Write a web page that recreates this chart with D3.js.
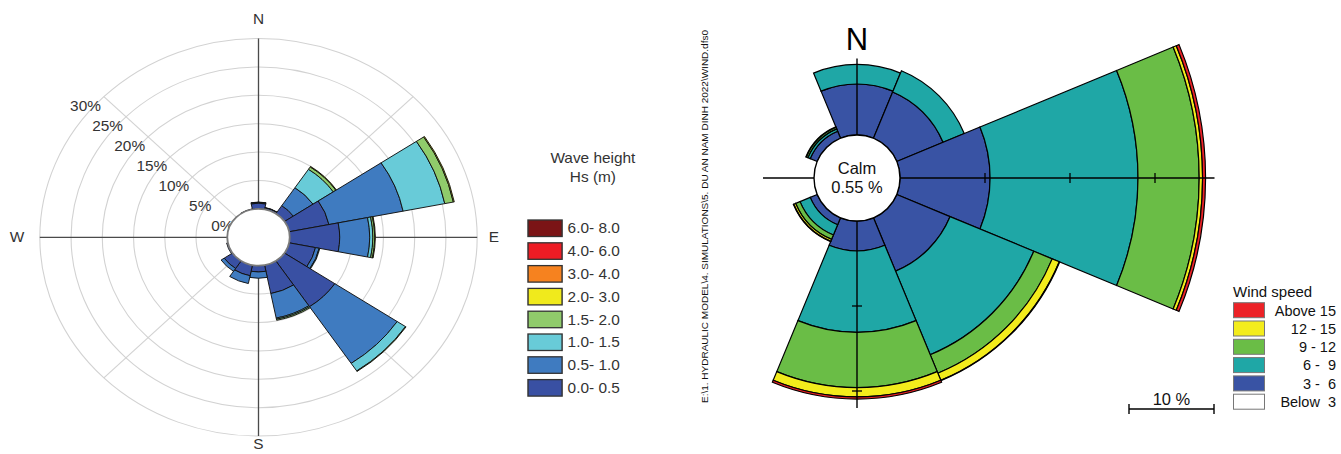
<!DOCTYPE html>
<html>
<head>
<meta charset="utf-8">
<script src="https://cdn.jsdelivr.net/npm/d3@7"></script>
<style>
  html, body { margin: 0; padding: 0; background: #fff; }
  svg { display: block; font-family: "Liberation Sans", Arial, sans-serif; }
</style>
</head>
<body>
<svg id="chart" width="1341" height="454"></svg>
<script>
// ================= Wave rose data (frequency %, 16 directions) =================
const waveDirections = ["N","NNE","NE","ENE","E","ESE","SE","SSE","S","SSW","SW","WSW","W","WNW","NW","NNW"];
const waveClassLabels = ["0.0- 0.5","0.5- 1.0","1.0- 1.5","1.5- 2.0","2.0- 3.0","3.0- 4.0","4.0- 6.0","6.0- 8.0"];
const waveColors = ["#3950a3","#3f7bc0","#68cbd8","#90cb6b","#f0ea1c","#f6821f","#ed1c24","#7b1416"];
const waveHs00_05 = [1.0, 0.3, 1.7, 6.5, 8.0, 4.3, 9.7, 5.1, 1.1, 1.9, 1.6, 0.2, 0, 0, 0, 0.1];
const waveHs05_10 = [0.15, 0.05, 3.8, 12.1, 4.8, 0.6, 12.0, 4.4, 1.1, 1.4, 0.6, 0, 0, 0, 0, 0];
const waveHs10_15 = [0.05, 0, 3.9, 6.8, 0.5, 0.1, 1.6, 0.2, 0, 0, 0, 0, 0, 0, 0, 0];
const waveHs15_20 = [0, 0, 0.5, 1.4, 0.3, 0, 0.1, 0.2, 0, 0, 0, 0, 0, 0, 0, 0];
const waveHs20_30 = [0, 0, 0.1, 0.15, 0.1, 0, 0, 0, 0, 0, 0, 0, 0, 0, 0, 0];
const waveHs30_40 = [0, 0, 0, 0, 0, 0, 0, 0, 0, 0, 0, 0, 0, 0, 0, 0];
const waveHs40_60 = [0, 0, 0, 0, 0, 0, 0, 0, 0, 0, 0, 0, 0, 0, 0, 0];
const waveHs60_80 = [0, 0, 0, 0, 0, 0, 0, 0, 0, 0, 0, 0, 0, 0, 0, 0];
const waveRingTicks = [0, 5, 10, 15, 20, 25, 30];
const waveCompass = ["N", "E", "S", "W"];

// ================= Wind rose data (frequency %, 8 directions) =================
const windDirections = ["N","NE","E","SE","S","SW","W","NW"];
const windLegendLabels = ["Above 15", "12 - 15", "9 - 12", "6 -  9", "3 -  6", "Below  3"];
const windLegendColors = ["#ec2227", "#f3ec1c", "#6abd46", "#1fa7a6", "#3953a4", "#ffffff"];
const windBelow3 = [0, 0, 0, 0, 0, 0, 0, 0];
const wind3_6    = [6.0, 5.9, 10.6, 6.8, 3.5, 0.9, 0, 0.9];
const wind6_9    = [2.3, 2.7, 17.4, 10.65, 9.6, 1.3, 0, 0.3];
const wind9_12   = [0, 0, 7.2, 2.35, 6.5, 0.55, 0, 0.2];
const wind12_15  = [0, 0, 0.4, 0.9, 1.1, 0.25, 0, 0.05];
const windAbove15 = [0, 0, 0.35, 0.05, 0.25, 0.05, 0, 0];
const calmPercent = 0.55;
const windAxisReach = [9.0, 37.0, 22.0, 6.0];   // N, E, S, W axis length in %
const windAxisTicks = [10, 20, 30];
const scaleBarPercent = 10;
const filePath = "E:\\1. HYDRAULIC MODEL\\4. SIMULATIONS\\5. DU AN NAM DINH 2022\\WIND.dfs0";

const svg = d3.select("#chart");
const arc = d3.arc();

// ---------------------------------------------------------------------------
// Wave rose: the whole panel is drawn 1.1x wider than tall
// ---------------------------------------------------------------------------
const wavePanel = svg.append("g").attr("transform", "scale(1.1,1)");
const wc = { x: 235, y: 237.3 };
const rWave = d3.scaleLinear().domain([0, 30]).range([28.4, 198.8]);
const waveSeries = [waveHs00_05, waveHs05_10, waveHs10_15, waveHs15_20,
                    waveHs20_30, waveHs30_40, waveHs40_60, waveHs60_80];
const waveStep = 2 * Math.PI / waveDirections.length;

const wg = wavePanel.append("g").attr("transform", `translate(${wc.x},${wc.y})`);

// rings
wg.selectAll("circle.ring").data(waveRingTicks).join("circle")
  .attr("class", "ring").attr("r", d => rWave(d))
  .attr("fill", "none").attr("stroke", "#d2d2d2").attr("stroke-width", 1);

// diagonal spokes
[45, 135, 225, 315].forEach(deg => {
  const a = deg * Math.PI / 180;
  wg.append("line")
    .attr("x1", rWave(0) * Math.sin(a)).attr("y1", -rWave(0) * Math.cos(a))
    .attr("x2", rWave(30) * Math.sin(a)).attr("y2", -rWave(30) * Math.cos(a))
    .attr("stroke", "#d2d2d2").attr("stroke-width", 1);
});

// main axes
wg.append("line").attr("x1", -rWave(30)).attr("x2", rWave(30)).attr("y1", 0).attr("y2", 0)
  .attr("stroke", "#4a4a4a").attr("stroke-width", 1.2);
wg.append("line").attr("y1", -rWave(30)).attr("y2", rWave(30)).attr("x1", 0).attr("x2", 0)
  .attr("stroke", "#4a4a4a").attr("stroke-width", 1.2);

// percent labels along the NW spoke
wg.selectAll("text.pct").data(waveRingTicks).join("text")
  .attr("class", "pct")
  .attr("x", d => -rWave(d) * Math.SQRT1_2 - 2.7)
  .attr("y", d => -rWave(d) * Math.SQRT1_2 + 9.4)
  .attr("text-anchor", "end").attr("dominant-baseline", "central")
  .attr("font-size", 14).attr("fill", "#333")
  .text(d => d + "%");

// stacked sectors
waveDirections.forEach((dir, i) => {
  let base = 0;
  waveSeries.forEach((arr, k) => {
    const v = arr[i];
    if (v <= 0) return;
    wg.append("path")
      .attr("d", arc({
        innerRadius: rWave(base), outerRadius: rWave(base + v),
        startAngle: i * waveStep - waveStep / 2, endAngle: i * waveStep + waveStep / 2
      }))
      .attr("fill", waveColors[k]).attr("stroke", "#111").attr("stroke-width", 0.9)
      .attr("stroke-linejoin", "miter");
    base += v;
  });
});

// central hole
wg.append("circle").attr("r", rWave(0)).attr("fill", "#fff")
  .attr("stroke", "#7a7a7a").attr("stroke-width", 1.7);

// compass letters
const compassPos = [[0, -218], [214, 0], [0, 207], [-219.5, 0]];
waveCompass.forEach((c, i) => {
  wg.append("text")
    .attr("x", compassPos[i][0]).attr("y", compassPos[i][1])
    .attr("text-anchor", "middle").attr("dominant-baseline", "central")
    .attr("font-size", 14).attr("fill", "#333").text(c);
});

// legend
const wl = wavePanel.append("g");
wl.append("text").attr("x", 539).attr("y", 158).attr("text-anchor", "middle")
  .attr("dominant-baseline", "central").attr("font-size", 14).attr("fill", "#333").text("Wave height");
wl.append("text").attr("x", 539).attr("y", 177).attr("text-anchor", "middle")
  .attr("dominant-baseline", "central").attr("font-size", 14).attr("fill", "#333").text("Hs (m)");
const waveLegendOrder = d3.range(waveClassLabels.length).reverse();
waveLegendOrder.forEach((k, j) => {
  const y = 220 + j * 22.8;
  wl.append("rect").attr("x", 480).attr("y", y).attr("width", 31).attr("height", 16.5)
    .attr("fill", waveColors[k]).attr("stroke", "#333").attr("stroke-width", 1.3);
  wl.append("text").attr("x", 516).attr("y", y + 8.6).attr("dominant-baseline", "central")
    .attr("font-size", 14).attr("fill", "#333").text(waveClassLabels[k]);
});

// ---------------------------------------------------------------------------
// Wind rose
// ---------------------------------------------------------------------------
const cc = { x: 857, y: 178 };
const rWind = d3.scaleLinear().domain([0, 10]).range([43, 128]);
const windSeries = [windBelow3, wind3_6, wind6_9, wind9_12, wind12_15, windAbove15];
const windFill = ["#ffffff", "#3953a4", "#1fa7a6", "#6abd46", "#f3ec1c", "#ec2227"];
const windStep = 2 * Math.PI / windDirections.length;
const rg = svg.append("g").attr("transform", `translate(${cc.x},${cc.y})`);

windDirections.forEach((dir, i) => {
  let base = 0;
  windSeries.forEach((arr, k) => {
    const v = arr[i];
    if (v <= 0) return;
    rg.append("path")
      .attr("d", arc({
        innerRadius: rWind(base), outerRadius: rWind(base + v),
        startAngle: i * windStep - windStep / 2, endAngle: i * windStep + windStep / 2
      }))
      .attr("fill", windFill[k]).attr("stroke", "#000").attr("stroke-width", 1.2);
    base += v;
  });
});

// axes with ticks every 10 %
windAxisReach.forEach((reach, i) => {
  const a = i * Math.PI / 2;
  const ux = Math.sin(a), uy = -Math.cos(a);
  rg.append("line").attr("x1", 0).attr("y1", 0)
    .attr("x2", rWind(reach) * ux).attr("y2", rWind(reach) * uy)
    .attr("stroke", "#000").attr("stroke-width", 1.4);
  windAxisTicks.filter(t => t < reach).forEach(t => {
    const px = rWind(t) * ux, py = rWind(t) * uy;
    rg.append("line")
      .attr("x1", px - 5 * uy).attr("y1", py + 5 * ux)
      .attr("x2", px + 5 * uy).attr("y2", py - 5 * ux)
      .attr("stroke", "#000").attr("stroke-width", 1.3);
  });
});

// calm circle
rg.append("circle").attr("r", rWind(0)).attr("fill", "#fff")
  .attr("stroke", "#000").attr("stroke-width", 1.4);
rg.append("text").attr("y", -10).attr("text-anchor", "middle").attr("dominant-baseline", "central")
  .attr("font-size", 16.5).attr("fill", "#111").text("Calm");
rg.append("text").attr("y", 9).attr("text-anchor", "middle").attr("dominant-baseline", "central")
  .attr("font-size", 16.5).attr("fill", "#111").text(calmPercent.toFixed(2) + " %");

// north letter
svg.append("text").attr("x", cc.x).attr("y", 39).attr("text-anchor", "middle")
  .attr("dominant-baseline", "central").attr("font-size", 31).attr("fill", "#000").text("N");

// file path, rotated
svg.append("text")
  .attr("transform", "translate(705,403) rotate(-90)")
  .attr("dominant-baseline", "central")
  .attr("font-size", 8.5).attr("fill", "#111")
  .attr("textLength", 373).attr("lengthAdjust", "spacingAndGlyphs")
  .text(filePath);

// wind speed legend
const lg = svg.append("g");
lg.append("text").attr("x", 1233).attr("y", 291).attr("dominant-baseline", "central")
  .attr("font-size", 15).attr("fill", "#111").text("Wind speed");
windLegendLabels.forEach((lab, j) => {
  const y = 302.7 + j * 18.3;
  lg.append("rect").attr("x", 1233.5).attr("y", y).attr("width", 31).attr("height", 15)
    .attr("fill", windLegendColors[j]).attr("stroke", "#777").attr("stroke-width", 1);
  lg.append("text").attr("x", 1336).attr("y", y + 7.8).attr("text-anchor", "end")
    .attr("dominant-baseline", "central").attr("font-size", 14.5).attr("fill", "#111")
    .style("white-space", "pre").text(lab);
});

// scale bar: 10 % of radial length
const barLen = rWind(scaleBarPercent) - rWind(0);
const barRight = 1214, barY = 409;
lg.append("line").attr("x1", barRight - barLen).attr("x2", barRight).attr("y1", barY).attr("y2", barY)
  .attr("stroke", "#000").attr("stroke-width", 1.4);
[barRight - barLen, barRight].forEach(x => {
  lg.append("line").attr("x1", x).attr("x2", x).attr("y1", barY - 5).attr("y2", barY + 5)
    .attr("stroke", "#000").attr("stroke-width", 1.4);
});
lg.append("text").attr("x", barRight - barLen / 2).attr("y", 399).attr("text-anchor", "middle")
  .attr("dominant-baseline", "central").attr("font-size", 16.5).attr("fill", "#111")
  .text(scaleBarPercent + " %");
</script>
</body>
</html>
